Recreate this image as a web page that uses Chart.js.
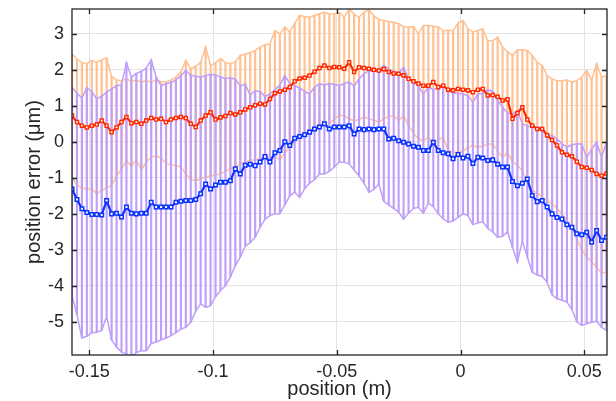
<!DOCTYPE html>
<html>
<head>
<meta charset="utf-8">
<script src="https://cdn.jsdelivr.net/npm/chart.js@4/dist/chart.umd.min.js"></script>
<style>
html,body{margin:0;padding:0;background:#fff;}
#wrap{width:616px;height:401px;}
</style>
</head>
<body>
<div id="wrap"><canvas id="c" width="616" height="401"></canvas></div>
<script>
// sample positions (m)
const positions = [
-0.157,-0.155,-0.153,-0.151,-0.149,-0.147,-0.145,-0.143,-0.141,-0.139,
-0.137,-0.135,-0.133,-0.131,-0.129,-0.127,-0.125,-0.123,-0.121,-0.119,
-0.117,-0.115,-0.113,-0.111,-0.109,-0.107,-0.105,-0.103,-0.101,-0.099,
-0.097,-0.095,-0.093,-0.091,-0.089,-0.087,-0.085,-0.083,-0.081,-0.079,
-0.077,-0.075,-0.073,-0.071,-0.069,-0.067,-0.065,-0.063,-0.061,-0.059,
-0.057,-0.055,-0.053,-0.051,-0.049,-0.047,-0.045,-0.043,-0.041,-0.039,
-0.037,-0.035,-0.033,-0.031,-0.029,-0.027,-0.025,-0.023,-0.021,-0.019,
-0.017,-0.015,-0.013,-0.011,-0.009,-0.007,-0.005,-0.003,-0.001,0.001,
0.003,0.005,0.007,0.009,0.011,0.013,0.015,0.017,0.019,0.021,
0.023,0.025,0.027,0.029,0.031,0.033,0.035,0.037,0.039,0.041,
0.043,0.045,0.047,0.049,0.051,0.053,0.055,0.057,0.059];

// red series: mean and error-bar ends (um)
const redMean = [
0.73,0.55,0.45,0.40,0.45,0.48,0.59,0.45,0.27,0.40,
0.55,0.69,0.52,0.55,0.50,0.59,0.66,0.62,0.64,0.55,
0.62,0.66,0.69,0.66,0.50,0.41,0.59,0.73,0.82,0.62,
0.68,0.72,0.80,0.76,0.82,0.90,0.96,1.02,1.06,1.04,
1.19,1.35,1.40,1.45,1.52,1.68,1.76,1.78,1.84,1.95,
2.05,2.12,2.05,2.08,2.07,2.03,2.21,1.94,2.07,2.05,
2.03,2.00,1.98,2.02,1.94,1.90,1.89,1.85,1.75,1.68,
1.62,1.56,1.56,1.66,1.52,1.56,1.45,1.43,1.47,1.45,
1.43,1.38,1.45,1.47,1.29,1.30,1.25,1.15,1.18,0.64,
0.80,0.96,0.62,0.45,0.36,0.36,0.18,0.05,-0.10,-0.29,
-0.36,-0.40,-0.55,-0.70,-0.72,-0.78,-0.89,-0.94,-0.88];
const redUpper = [
2.44,2.30,2.20,2.17,2.26,2.21,2.28,2.33,1.81,1.72,
1.70,1.75,1.68,1.72,1.66,1.70,1.65,1.72,1.68,1.66,
1.72,1.80,1.94,2.26,2.03,2.10,2.21,2.63,2.12,2.20,
2.31,2.20,2.17,2.22,2.40,2.44,2.48,2.54,2.63,2.70,
2.72,3.09,3.00,3.19,3.05,3.30,3.51,3.48,3.46,3.51,
3.56,3.60,3.55,3.56,3.60,3.46,3.69,3.55,3.46,3.60,
3.67,3.50,3.40,3.37,3.34,3.32,3.28,3.20,3.19,3.20,
3.00,3.23,3.23,3.21,3.19,3.09,3.09,3.09,3.30,3.37,
3.14,3.05,3.09,3.14,2.81,2.81,2.91,2.63,2.50,2.40,
2.56,2.56,2.54,2.40,2.21,2.12,1.84,1.75,1.70,1.70,
1.72,1.66,1.70,1.80,1.98,1.72,2.17,1.80,1.84];
const redLower = [
-0.98,-1.20,-1.28,-1.31,-1.31,-1.44,-1.35,-1.28,-1.21,-0.95,
-0.75,-0.52,-0.68,-0.50,-0.78,-0.56,-0.43,-0.38,-0.45,-0.60,
-0.64,-0.66,-0.70,-0.89,-1.05,-1.07,-1.03,-0.98,-0.94,-0.92,
-0.89,-0.82,-0.75,-0.70,-0.61,-0.56,-0.52,-0.50,-0.47,-0.43,
-0.43,-0.40,-0.50,-0.30,-0.15,0.00,0.13,0.20,0.27,0.35,
0.41,0.45,0.50,0.64,0.73,0.73,0.64,0.59,0.62,0.69,
0.64,0.60,0.55,0.64,0.70,0.73,0.59,0.73,0.45,0.25,
0.08,0.04,0.13,-0.06,0.05,0.13,-0.24,-0.29,-0.29,-0.27,
-0.15,-0.10,-0.15,-0.12,-0.06,-0.06,-0.25,-0.43,-0.30,-0.55,
-0.65,-0.80,-1.10,-1.35,-1.42,-1.54,-1.63,-1.72,-1.85,-2.00,
-2.19,-2.40,-2.70,-3.00,-3.20,-3.33,-3.48,-3.65,-3.62];

// blue series: mean and error-bar ends (um)
const blueMean = [
-1.31,-1.60,-1.86,-1.96,-2.02,-2.02,-2.03,-1.63,-2.00,-1.98,
-2.09,-1.81,-1.98,-2.00,-1.98,-1.98,-1.68,-1.81,-1.81,-1.81,
-1.81,-1.68,-1.65,-1.63,-1.63,-1.60,-1.44,-1.17,-1.31,-1.20,
-1.12,-1.12,-1.08,-0.75,-0.89,-0.65,-0.62,-0.66,-0.56,-0.41,
-0.56,-0.30,-0.24,0.00,-0.10,0.10,0.15,0.20,0.27,0.36,
0.41,0.50,0.36,0.41,0.41,0.41,0.45,0.22,0.36,0.34,
0.36,0.34,0.36,0.36,0.08,0.10,0.03,-0.01,-0.06,-0.12,
-0.15,-0.24,-0.24,-0.01,-0.24,-0.30,-0.33,-0.47,-0.35,-0.45,
-0.40,-0.60,-0.43,-0.45,-0.52,-0.50,-0.62,-0.70,-0.70,-1.10,
-1.22,-1.15,-1.03,-1.49,-1.66,-1.63,-1.81,-2.00,-2.10,-2.14,
-2.30,-2.37,-2.55,-2.58,-2.51,-2.79,-2.46,-2.74,-2.65];
const blueUpper = [
1.52,1.35,1.22,1.50,1.40,1.19,1.27,1.38,1.47,1.56,
1.58,2.20,1.80,1.90,1.96,2.05,2.28,1.80,1.56,1.62,
1.65,1.72,1.84,1.98,1.85,1.82,1.80,1.84,1.88,1.86,
1.80,1.76,1.78,1.74,1.56,1.60,1.30,1.42,1.40,1.26,
1.33,1.45,1.58,1.84,1.62,1.56,1.50,1.40,1.33,1.52,
1.61,1.58,1.62,1.60,1.56,1.62,1.66,1.55,1.75,1.89,
1.98,1.95,2.00,2.12,2.02,1.96,1.92,2.07,1.75,1.66,
1.55,1.33,1.52,1.45,1.50,1.56,1.43,1.36,1.35,1.33,
1.29,1.10,1.33,1.35,1.45,1.40,1.15,0.96,0.80,0.78,
0.87,0.50,0.45,0.40,0.41,0.40,0.20,0.18,0.08,-0.05,
-0.15,-0.08,-0.05,-0.06,-0.43,-0.20,-0.01,-0.43,-0.01];
const blueLower = [
-4.27,-4.80,-5.45,-5.40,-5.30,-5.29,-5.24,-4.85,-5.50,-5.70,
-5.84,-5.89,-5.98,-5.85,-5.80,-5.80,-5.60,-5.56,-5.50,-5.45,
-5.38,-5.30,-5.20,-5.15,-5.01,-4.70,-4.50,-4.60,-4.55,-4.30,
-4.13,-4.00,-3.75,-3.44,-3.20,-2.90,-2.80,-2.65,-2.37,-2.15,
-2.05,-2.00,-2.00,-1.75,-1.50,-1.40,-1.54,-1.30,-1.15,-1.05,
-0.89,-0.89,-0.82,-0.70,-0.56,-0.57,-0.61,-0.78,-0.95,-1.15,
-1.40,-1.32,-1.17,-1.65,-1.75,-1.85,-1.95,-2.15,-1.98,-1.85,
-1.82,-1.98,-1.70,-1.80,-2.00,-2.14,-2.23,-2.20,-2.10,-2.00,
-2.05,-2.30,-2.25,-2.22,-2.40,-2.50,-2.65,-2.62,-2.50,-2.93,
-3.34,-2.75,-3.20,-3.62,-3.70,-3.74,-3.90,-4.25,-4.36,-4.40,
-4.45,-4.65,-5.00,-5.10,-5.05,-5.01,-4.98,-5.15,-5.24];

const xTicks = [-0.15, -0.1, -0.05, 0, 0.05];
const xTickLabels = ['-0.15', '-0.1', '-0.05', '0', '0.05'];
const yTicks = [-5, -4, -3, -2, -1, 0, 1, 2, 3];
const yTickLabels = ['-5', '-4', '-3', '-2', '-1', '0', '1', '2', '3'];

const ORANGE = '#ffc192';
const PURPLE = '#bf9ff9';
const RED = '#ff2a00';
const BLUE = '#0a33ff';
const AXIS = '#262626';

const pts = (arr) => positions.map((x, i) => ({x: x, y: arr[i]}));
const bars = (lo, hi) => positions.map((x, i) => ({x: x, y: [lo[i], hi[i]]}));

const boxPlugin = {
  id: 'box',
  afterDatasetsDraw(chart) {
    const {ctx, chartArea: a, scales} = chart;
    ctx.save();
    ctx.strokeStyle = AXIS;
    ctx.lineWidth = 1.3;
    ctx.strokeRect(a.left, a.top, a.right - a.left, a.bottom - a.top);
    ctx.beginPath();
    xTicks.forEach(v => {
      const p = Math.round(scales.x.getPixelForValue(v)) + 0.5;
      ctx.moveTo(p, a.bottom); ctx.lineTo(p, a.bottom - 5);
      ctx.moveTo(p, a.top); ctx.lineTo(p, a.top + 5);
    });
    yTicks.forEach(v => {
      const p = Math.round(scales.y.getPixelForValue(v)) + 0.5;
      ctx.moveTo(a.left, p); ctx.lineTo(a.left + 5, p);
      ctx.moveTo(a.right, p); ctx.lineTo(a.right - 5, p);
    });
    ctx.stroke();
    ctx.restore();
  }
};

Chart.defaults.font.family = '"Liberation Sans", Arial, Helvetica, sans-serif';
Chart.defaults.color = AXIS;

new Chart(document.getElementById('c'), {
  type: 'line',
  data: {
    datasets: [
      {type: 'bar', data: bars(redLower, redUpper), backgroundColor: ORANGE, barThickness: 1.5, grouped: false, order: 4},
      {type: 'line', data: pts(redUpper), borderColor: ORANGE, borderWidth: 1.5, pointRadius: 0, order: 4},
      {type: 'line', data: pts(redLower), borderColor: ORANGE, borderWidth: 1.5, pointRadius: 0, order: 4},
      {type: 'bar', data: bars(blueLower, blueUpper), backgroundColor: PURPLE, barThickness: 1.5, grouped: false, order: 3},
      {type: 'line', data: pts(blueUpper), borderColor: PURPLE, borderWidth: 1.5, pointRadius: 0, order: 3},
      {type: 'line', data: pts(blueLower), borderColor: PURPLE, borderWidth: 1.5, pointRadius: 0, order: 3},
      {type: 'line', data: pts(redMean), borderColor: RED, borderWidth: 2.2, pointStyle: 'rect', pointRadius: 2.2,
        pointBorderWidth: 1.4, pointBackgroundColor: '#fff', pointBorderColor: RED, order: 1},
      {type: 'line', data: pts(blueMean), borderColor: BLUE, borderWidth: 2.2, pointStyle: 'rect', pointRadius: 2.5,
        pointBorderWidth: 1.5, pointBackgroundColor: '#fff', pointBorderColor: BLUE, order: 0}
    ]
  },
  options: {
    responsive: false,
    animation: false,
    devicePixelRatio: 1,
    layout: {padding: {left: 0, top: 9, right: 9, bottom: 0}},
    plugins: {legend: {display: false}, tooltip: {enabled: false}, title: {display: false}},
    elements: {line: {tension: 0}},
    scales: {
      x: {
        type: 'linear', min: -0.157, max: 0.0592, offset: false,
        afterBuildTicks: s => { s.ticks = xTicks.map(v => ({value: v})); },
        afterFit: s => { s.height = 46; s.paddingLeft = 0; s.paddingRight = 0; },
        ticks: {font: {size: 18}, padding: 6, maxRotation: 0, autoSkip: false,
          callback: (v) => xTickLabels[xTicks.indexOf(v)] },
        grid: {color: '#e4e4e4', lineWidth: 1, drawTicks: false, offset: false},
        border: {display: false},
        title: {display: true, text: 'position (m)', font: {size: 20}, padding: {top: 0, bottom: 0}}
      },
      y: {
        type: 'linear', min: -5.92, max: 3.69,
        afterBuildTicks: s => { s.ticks = yTicks.map(v => ({value: v})); },
        afterFit: s => { s.width = 72; s.paddingTop = 0; s.paddingBottom = 0; },
        ticks: {font: {size: 18}, padding: 8, autoSkip: false,
          callback: (v) => yTickLabels[yTicks.indexOf(v)] },
        grid: {color: '#e4e4e4', lineWidth: 1, drawTicks: false},
        border: {display: false},
        title: {display: true, text: 'position error (\u03BCm)', font: {size: 20}, padding: {top: 22, bottom: 0}}
      }
    }
  },
  plugins: [boxPlugin]
});
</script>
</body>
</html>
